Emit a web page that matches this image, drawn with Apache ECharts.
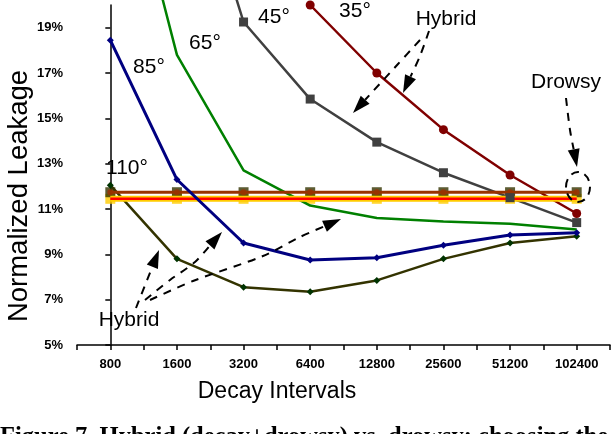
<!DOCTYPE html>
<html><head><meta charset="utf-8">
<script src="https://cdn.jsdelivr.net/npm/echarts@6/dist/echarts.min.js"></script>
<style>html,body{margin:0;padding:0;background:#fff}#c{width:614px;height:434px}</style>
</head><body><div id="c"></div>
<script>
const categories = ['800','1600','3200','6400','12800','25600','51200','102400'];
const yTickValues = [5,7,9,11,13,15,17,19];
const s35  = [null, null, null, 20.0, 17.0, 14.5, 12.5, 10.8];
const s45  = [null, 28.7, 19.25, 15.85, 13.95, 12.6, 11.5, 10.4];
const s65  = [29.2, 17.8, 12.7, 11.15, 10.6, 10.45, 10.35, 10.1];
const s85  = [18.45, 12.3, 9.5, 8.75, 8.85, 9.4, 9.85, 9.95];
const s110 = [12.05, 8.8, 7.55, 7.35, 7.85, 8.8, 9.5, 9.8];
const drowsyHigh = [11.74, 11.74, 11.74, 11.74, 11.74, 11.74, 11.74, 11.74];
const drowsyLow  = [11.45, 11.45, 11.45, 11.45, 11.45, 11.45, 11.45, 11.45];

const pts = arr => arr.map((v, i) => [i, v]);
const xTickValues = [];
for (let i = -0.5; i <= 7.5; i += 0.5) xTickValues.push(i);

function lineSeries(data, color, width, symbol, size, symColor) {
  return {
    type: 'line', data: pts(data), clip: false, silent: true,
    lineStyle: { color: color, width: width },
    itemStyle: { color: symColor || color },
    symbol: symbol || 'none', symbolSize: size || 0, showSymbol: !!symbol,
    connectNulls: false, animation: false
  };
}
function scatterSeries(data, color, symbol, size) {
  return { type: 'scatter', data: pts(data), symbol: symbol, symbolSize: size,
    itemStyle: { color: color }, silent: true, animation: false, clip: false };
}

function arrow(points, tip, headLen, headW) {
  headLen = headLen || 16; headW = headW || 6;
  const last = points[points.length - 1];
  let dx = tip[0] - last[0], dy = tip[1] - last[1];
  const L = Math.hypot(dx, dy); dx /= L; dy /= L;
  const base = [tip[0] - dx * headLen, tip[1] - dy * headLen];
  const px = -dy, py = dx;
  return [
    { type: 'polyline', shape: { points: points.concat([base]), smooth: 0.3 },
      style: { stroke: '#000', lineWidth: 2, lineDash: [8, 7], fill: null }, z: 100 },
    { type: 'polygon', shape: { points: [tip, [base[0] + px * headW, base[1] + py * headW], [base[0] - px * headW, base[1] - py * headW]] },
      style: { fill: '#000' }, z: 100 }
  ];
}
function label(text, cx, cy) {
  return { type: 'text', x: cx, y: cy, z: 100,
    style: { text: text, font: '21px "Liberation Sans", Arial, sans-serif', fill: '#000', align: 'center', verticalAlign: 'middle' } };
}

const graphics = [].concat(
  label('35°', 355, 11), label('45°', 274, 17), label('65°', 205, 43), label('85°', 149, 67), label('110°', 127, 168),
  label('Hybrid', 446, 19), label('Drowsy', 566, 82), label('Hybrid', 129, 320),
  arrow([[429, 31], [420, 56]], [403, 93], 18, 6),
  arrow([[420, 40], [398, 64]], [353, 113], 18, 6),
  arrow([[566, 98], [570, 130]], [577, 167], 18, 6),
  arrow([[136, 308]], [159, 250], 18, 6),
  arrow([[145, 300], [170, 280], [195, 262]], [222, 232], 18, 6),
  arrow([[150, 300], [193, 281], [263, 256], [300, 237]], [341, 219], 18, 6),
  [
    { type: 'ellipse', shape: { cx: 578, cy: 187, rx: 12, ry: 15 }, z: 100,
      style: { fill: null, stroke: '#000', lineWidth: 2, lineDash: [8, 6] } },
    { type: 'text', x: 19, y: 196, rotation: Math.PI / 2, z: 100,
      style: { text: 'Normalized Leakage', font: '27.5px "Liberation Sans", Arial, sans-serif', fill: '#000', align: 'center', verticalAlign: 'middle' } },
    { type: 'text', x: 277, y: 392, z: 100,
      style: { text: 'Decay Intervals', font: '23px "Liberation Sans", Arial, sans-serif', fill: '#000', align: 'center', verticalAlign: 'middle' } },
    { type: 'text', x: 0, y: 425, z: 100,
      style: { text: 'Figure 7. Hybrid (decay+drowsy) vs. drowsy: choosing the', font: 'bold 24.5px "Liberation Serif", "Times New Roman", serif', fill: '#000', align: 'left', verticalAlign: 'top' } }
  ]
);

const chart = echarts.init(document.getElementById('c'), null, { renderer: 'canvas' });
chart.setOption({
  animation: false,
  backgroundColor: '#fff',
  grid: { left: 77, right: 4, top: 5, bottom: 89 },
  xAxis: {
    type: 'value', min: -0.5, max: 7.5, interval: 0.5,
    axisLine: { show: true, onZero: false, lineStyle: { color: '#000', width: 1.5 } },
    axisTick: { show: true, length: 5, lineStyle: { color: '#000', width: 1.5 }, customValues: xTickValues },
    axisLabel: { customValues: [0,1,2,3,4,5,6,7], formatter: v => categories[Math.round(v)],
      color: '#000', fontSize: 13, fontWeight: 'bold', fontFamily: '"Liberation Sans", Arial, sans-serif', margin: 13 },
    splitLine: { show: false }
  },
  yAxis: {
    type: 'value', min: 5, max: 20,
    axisLine: { show: true, lineStyle: { color: '#000', width: 1.5 } },
    axisTick: { show: true, length: 5, lineStyle: { color: '#000', width: 1.5 }, customValues: yTickValues },
    axisLabel: { customValues: yTickValues, formatter: v => v + '%',
      color: '#000', fontSize: 13, fontWeight: 'bold', fontFamily: '"Liberation Sans", Arial, sans-serif', margin: 14 },
    splitLine: { show: false }
  },
  series: [
    lineSeries(s45, '#404040', 2.5, 'rect', 9),
    lineSeries(s35, '#800000', 2.5, 'circle', 9),
    lineSeries(s65, '#008000', 2.5),
    lineSeries(s110, '#333300', 2.5, 'diamond', 7, '#003300'),
    lineSeries(drowsyLow, '#FFCC00', 6),
    lineSeries(drowsyLow, '#FF0000', 2.5),
    scatterSeries(drowsyLow, '#FFCC00', 'rect', 10),
    lineSeries(drowsyHigh, '#993300', 3),
    scatterSeries(drowsyHigh, '#333300', 'rect', 10),
    scatterSeries(drowsyHigh, '#A03000', 'circle', 6),
    lineSeries(s85, '#000080', 3, 'diamond', 7)
  ],
  graphic: graphics
});
</script></body></html>
